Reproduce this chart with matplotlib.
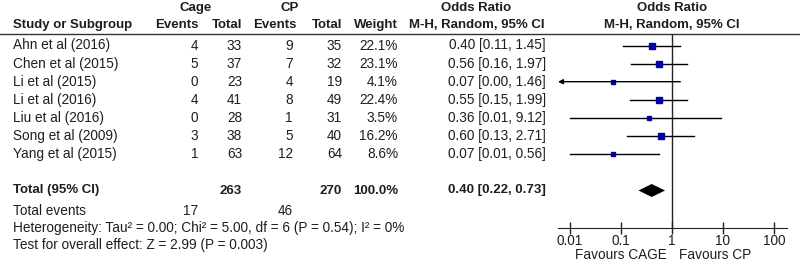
import numpy as np
import matplotlib
matplotlib.use("Agg")
import matplotlib.pyplot as plt

plt.rcParams['font.family'] = ['Liberation Sans', 'DejaVu Sans']

studies = ["Ahn et al (2016)", "Chen et al (2015)", "Li et al (2015)", "Li et al (2016)",
           "Liu et al (2016)", "Song et al (2009)", "Yang et al (2015)"]
cage_events = [4, 5, 0, 4, 0, 3, 1]
cage_total = [33, 37, 23, 41, 28, 38, 63]
cp_events = [9, 7, 4, 8, 1, 5, 12]
cp_total = [35, 32, 19, 49, 31, 40, 64]
weights = [22.1, 23.1, 4.1, 22.4, 3.5, 16.2, 8.6]
odds = [0.40, 0.56, 0.07, 0.55, 0.36, 0.60, 0.07]
ci_low = [0.11, 0.16, 0.00, 0.15, 0.01, 0.13, 0.01]
ci_high = [1.45, 1.97, 1.46, 1.99, 9.12, 2.71, 0.56]

total_or = 0.40
total_low = 0.22
total_high = 0.73
total_cage = 263
total_cp = 270
events_cage = 17
events_cp = 46
het_text = "Heterogeneity: Tau\u00b2 = 0.00; Chi\u00b2 = 5.00, df = 6 (P = 0.54); I\u00b2 = 0%"
test_text = "Test for overall effect: Z = 2.99 (P = 0.003)"
ticks = [0.01, 0.1, 1, 10, 100]
tick_labels = ["0.01", "0.1", "1", "10", "100"]

txt = "#1e1e1e"
fs = 9.8
fb = 9.5

fig = plt.figure(figsize=(8, 2.62), dpi=100)
ax0 = fig.add_axes([0, 0, 1, 1])
ax0.set_xlim(0, 800)
ax0.set_ylim(262, 0)
ax0.axis("off")

# header
ax0.text(196, 8, "Cage", ha="center", va="center", fontsize=fb, fontweight="bold", color=txt)
ax0.text(290, 8, "CP", ha="center", va="center", fontsize=fb, fontweight="bold", color=txt)
ax0.text(476, 8, "Odds Ratio", ha="center", va="center", fontsize=fb, fontweight="bold", color=txt)
ax0.text(672, 8, "Odds Ratio", ha="center", va="center", fontsize=fb, fontweight="bold", color=txt)
ax0.text(13, 25, "Study or Subgroup", ha="left", va="center", fontsize=fb, fontweight="bold", color=txt)
for x, s in [(198, "Events"), (242, "Total"), (297, "Events"), (342, "Total"), (398, "Weight")]:
    ax0.text(x, 25, s, ha="right", va="center", fontsize=fb, fontweight="bold", color=txt)
ax0.text(477, 25, "M-H, Random, 95% CI", ha="center", va="center", fontsize=fb, fontweight="bold", color=txt)
ax0.text(672, 25, "M-H, Random, 95% CI", ha="center", va="center", fontsize=fb, fontweight="bold", color=txt)
ax0.plot([0, 800], [33.5, 33.5], color="#333333", lw=1)

row_y = 45.5 + 18.1 * np.arange(len(studies))
for i, y in enumerate(row_y):
    ax0.text(13, y, studies[i], ha="left", va="center", fontsize=fs, color=txt)
    ax0.text(198, y, str(cage_events[i]), ha="right", va="center", fontsize=fs, color=txt)
    ax0.text(242, y, str(cage_total[i]), ha="right", va="center", fontsize=fs, color=txt)
    ax0.text(293, y, str(cp_events[i]), ha="right", va="center", fontsize=fs, color=txt)
    ax0.text(342, y, str(cp_total[i]), ha="right", va="center", fontsize=fs, color=txt)
    ax0.text(398, y, f"{weights[i]:.1f}%", ha="right", va="center", fontsize=fs, color=txt)
    ax0.text(546, y, f"{odds[i]:.2f} [{ci_low[i]:.2f}, {ci_high[i]:.2f}]",
             ha="right", va="center", fontsize=fs, color=txt)

y_tot = 190.5
ax0.text(13, y_tot, "Total (95% CI)", ha="left", va="center", fontsize=fb, fontweight="bold", color=txt)
ax0.text(242, y_tot, str(total_cage), ha="right", va="center", fontsize=fb, fontweight="bold", color=txt)
ax0.text(342, y_tot, str(total_cp), ha="right", va="center", fontsize=fb, fontweight="bold", color=txt)
ax0.text(398, y_tot, "100.0%", ha="right", va="center", fontsize=fb, fontweight="bold", color=txt)
ax0.text(546, y_tot, f"{total_or:.2f} [{total_low:.2f}, {total_high:.2f}]",
         ha="right", va="center", fontsize=fb, fontweight="bold", color=txt)

ax0.text(13, 211, "Total events", ha="left", va="center", fontsize=fs, color=txt)
ax0.text(198, 211, str(events_cage), ha="right", va="center", fontsize=fs, color=txt)
ax0.text(293, 211, str(events_cp), ha="right", va="center", fontsize=fs, color=txt)
ax0.text(13, 228, het_text, ha="left", va="center", fontsize=fs, color=txt)
ax0.text(13, 245, test_text, ha="left", va="center", fontsize=fs, color=txt)

# forest panel
x_left, x_right = 10 ** -2.235, 10 ** 2.255
ax = fig.add_axes([558 / 800, 1 - 228 / 262, (787 - 558) / 800, (228 - 34) / 262])
ax.set_xscale("log")
ax.set_xlim(x_left, x_right)
ax.set_ylim(228, 34)
ax.patch.set_visible(False)
for side in ["top", "left", "right"]:
    ax.spines[side].set_visible(False)
ax.spines["bottom"].set_color("#222222")
ax.set_yticks([])
ax.set_xticks(ticks)
ax.set_xticklabels(tick_labels)
ax.minorticks_off()
ax.tick_params(axis="x", direction="inout", length=8, width=1, colors="#222222",
               labelsize=fs, labelcolor=txt, pad=0)
ax.axvline(1, color="#222222", lw=1)

for i, y in enumerate(row_y):
    if ci_low[i] <= 0:
        ax.annotate("", xy=(x_left, y), xytext=(ci_high[i], y),
                    arrowprops=dict(arrowstyle="-|>", color="black", lw=1,
                                    mutation_scale=7, shrinkA=0, shrinkB=0))
    else:
        ax.plot([ci_low[i], ci_high[i]], [y, y], color="black", lw=1)
    # square size grows with study weight
    ax.plot(odds[i], y, marker="s", color="#0000a8", ms=1.4 + 0.65 * np.sqrt(weights[i]),
            mec="#0000a8", ls="none")

dh = 6.5
ax.fill([total_low, total_or, total_high, total_or],
        [y_tot, y_tot - dh, y_tot, y_tot + dh], color="black", lw=0)

ax0.text(667, 255, "Favours CAGE", ha="right", va="center", fontsize=fs, color=txt)
ax0.text(679, 255, "Favours CP", ha="left", va="center", fontsize=fs, color=txt)

fig.savefig("out.png", dpi=100)
